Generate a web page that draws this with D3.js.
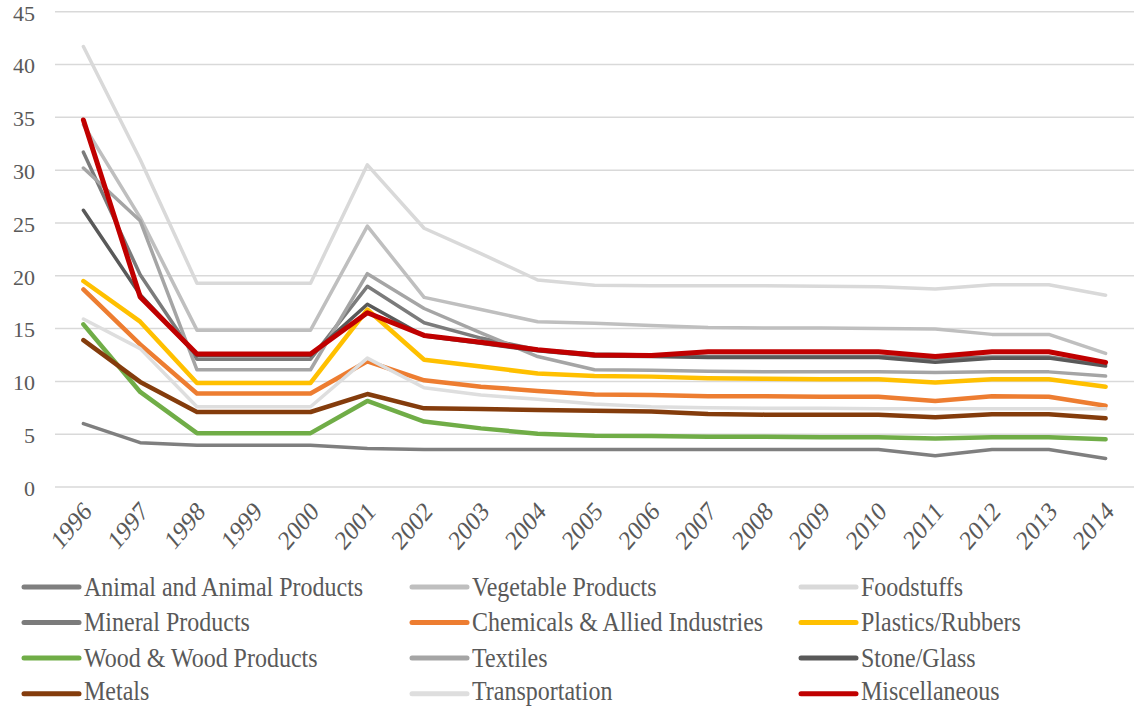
<!DOCTYPE html>
<html>
<head>
<meta charset="utf-8">
<script src="https://cdn.jsdelivr.net/npm/d3@7"></script>
<style>
  html, body { margin: 0; padding: 0; background: #fff; }
  svg text { font-family: "Liberation Serif", "Times New Roman", serif; fill: #595959; }
</style>
</head>
<body>
<svg id="chart" width="1135" height="706"></svg>
<script>
// Years on the category axis
const years = ["1996","1997","1998","1999","2000","2001","2002","2003","2004","2005",
               "2006","2007","2008","2009","2010","2011","2012","2013","2014"];

const yTicks = [0, 5, 10, 15, 20, 25, 30, 35, 40, 45];

// Series values, one per year
const animal     = [6.0, 4.2, 3.95, 3.95, 3.95, 3.65, 3.55, 3.55, 3.55, 3.55, 3.55, 3.55, 3.55, 3.55, 3.55, 2.95, 3.55, 3.55, 2.7];
const vegetable  = [34.3, 25.5, 14.85, 14.85, 14.85, 24.7, 17.95, 16.8, 15.65, 15.5, 15.3, 15.1, 15.05, 15.05, 15.0, 14.95, 14.45, 14.45, 12.65];
const foodstuffs = [41.7, 31.0, 19.3, 19.3, 19.3, 30.5, 24.5, 22.1, 19.6, 19.1, 19.05, 19.05, 19.05, 19.0, 18.95, 18.75, 19.15, 19.15, 18.15];
const mineral    = [31.7, 20.1, 12.1, 12.1, 12.1, 19.0, 15.55, 14.1, 13.0, 12.6, 12.5, 12.35, 12.35, 12.35, 12.35, 12.15, 12.3, 12.3, 11.6];
const chemicals  = [18.7, 13.5, 8.85, 8.85, 8.85, 11.9, 10.1, 9.5, 9.1, 8.75, 8.7, 8.6, 8.6, 8.55, 8.55, 8.15, 8.6, 8.55, 7.7];
const plastics   = [19.5, 15.65, 9.85, 9.85, 9.85, 16.8, 12.05, 11.4, 10.75, 10.5, 10.45, 10.3, 10.25, 10.2, 10.2, 9.9, 10.2, 10.2, 9.5];
const wood       = [15.4, 9.0, 5.1, 5.1, 5.1, 8.15, 6.2, 5.55, 5.05, 4.85, 4.82, 4.75, 4.75, 4.72, 4.72, 4.6, 4.7, 4.7, 4.52];
const textiles   = [30.2, 25.2, 11.1, 11.1, 11.1, 20.2, 16.9, 14.6, 12.35, 11.1, 11.05, 10.95, 10.9, 10.9, 10.9, 10.85, 10.9, 10.9, 10.5];
const stone      = [26.2, 18.2, 12.45, 12.45, 12.45, 17.3, 14.3, 13.6, 12.9, 12.4, 12.35, 12.25, 12.25, 12.25, 12.25, 11.8, 12.2, 12.2, 11.45];
const metals     = [13.9, 9.95, 7.1, 7.1, 7.1, 8.8, 7.45, 7.38, 7.3, 7.23, 7.15, 6.9, 6.85, 6.85, 6.85, 6.6, 6.88, 6.88, 6.5];
const transport  = [15.9, 13.1, 7.6, 7.6, 7.6, 12.2, 9.4, 8.7, 8.3, 7.85, 7.6, 7.5, 7.45, 7.45, 7.42, 7.4, 7.4, 7.4, 7.4];
const misc       = [34.75, 18.0, 12.6, 12.6, 12.6, 16.5, 14.35, 13.7, 13.0, 12.5, 12.45, 12.8, 12.8, 12.8, 12.8, 12.35, 12.8, 12.8, 11.8];

const seriesNames = ["Animal and Animal Products", "Vegetable Products", "Foodstuffs",
                     "Mineral Products", "Chemicals & Allied Industries", "Plastics/Rubbers",
                     "Wood & Wood Products", "Textiles", "Stone/Glass",
                     "Metals", "Transportation", "Miscellaneous"];
const seriesValues = [animal, vegetable, foodstuffs, mineral, chemicals, plastics,
                      wood, textiles, stone, metals, transport, misc];
const seriesColors = ["#7f7f7f", "#bfbfbf", "#d9d9d9", "#7b7b7b", "#ed7d31", "#ffc000",
                      "#70ad47", "#a5a5a5", "#595959", "#843c0c", "#dedede", "#c00000"];
const seriesWidths = [3.5, 3.5, 3.5, 3.5, 4.5, 4.5, 4.5, 3.5, 3.5, 4.5, 3.5, 5];

const series = seriesNames.map((name, i) => ({
  name, color: seriesColors[i], width: seriesWidths[i],
  values: seriesValues[i].map((v, j) => ({ year: years[j], value: v }))
}));

const svg = d3.select("#chart");
const plot = { left: 55, right: 1134, top: 11.7, bottom: 487 };

const x = d3.scalePoint().domain(years).range([plot.left, plot.right]).padding(0.5);
const y = d3.scaleLinear().domain([0, 45]).range([plot.bottom, plot.top]);

// Horizontal gridlines
svg.append("g")
  .selectAll("line")
  .data(yTicks)
  .join("line")
  .attr("x1", plot.left).attr("x2", plot.right)
  .attr("y1", d => y(d)).attr("y2", d => y(d))
  .attr("stroke", "#d9d9d9").attr("stroke-width", 1.5);

// Y axis labels
const yAxis = d3.axisLeft(y).tickValues(yTicks).tickSize(0).tickPadding(0);
svg.append("g")
  .attr("transform", `translate(${plot.left - 20},0)`)
  .call(yAxis)
  .call(g => g.select(".domain").remove())
  .call(g => g.selectAll("text")
    .style("font-family", '"Liberation Serif", serif')
    .style("font-size", "22px").attr("fill", "#595959")
    .attr("dy", "0.38em"));

// X axis labels, rotated and drawn slightly tall
const xAxis = d3.axisBottom(x).tickSize(0).tickPadding(0);
svg.append("g")
  .attr("transform", `translate(0,${plot.bottom})`)
  .call(xAxis)
  .call(g => g.select(".domain").remove())
  .call(g => g.selectAll("text")
    .style("font-family", '"Liberation Serif", serif')
    .style("font-size", "23px").attr("fill", "#595959")
    .attr("text-anchor", "end")
    .attr("y", 0).attr("dy", "0")
    .attr("transform", "translate(9,26) scale(1,1.18) rotate(-45)"));

// Lines
const line = d3.line().x(d => x(d.year)).y(d => y(d.value));
svg.append("g")
  .selectAll("path")
  .data(series)
  .join("path")
  .attr("d", d => line(d.values))
  .attr("fill", "none")
  .attr("stroke", d => d.color)
  .attr("stroke-width", d => d.width)
  .attr("stroke-linejoin", "round")
  .attr("stroke-linecap", "round");

// Legend: 3 columns, 4 rows
const legendCols = [24, 412, 801];
const legendRows = [588.3, 623.8, 659.3, 692.5];
const legend = svg.append("g")
  .selectAll("g")
  .data(series)
  .join("g")
  .attr("transform", (d, i) => `translate(${legendCols[i % 3]},${legendRows[Math.floor(i / 3)]})`);
legend.append("line")
  .attr("x1", 0).attr("x2", 55)
  .attr("y1", (d, i) => Math.floor(i / 3) === 3 ? 1.3 : -1.3)
  .attr("y2", (d, i) => Math.floor(i / 3) === 3 ? 1.3 : -1.3)
  .attr("stroke", d => d.color).attr("stroke-width", 5).attr("stroke-linecap", "round");
legend.append("text")
  .attr("transform", "translate(60,0) scale(1,1.12)")
  .attr("dy", "0.28em")
  .style("font-size", "24px")
  .text(d => d.name);
</script>
</body>
</html>
